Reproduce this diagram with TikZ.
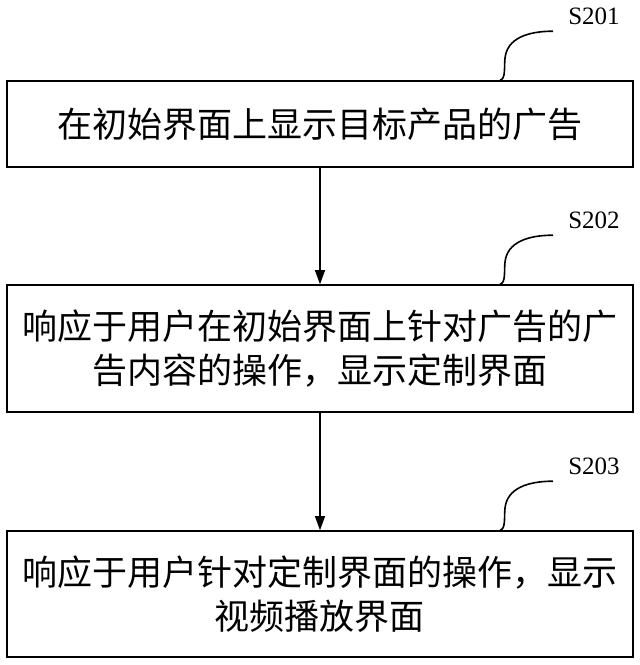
\documentclass[tikz,border=0pt]{standalone}
\usepackage{fontspec}
\setmainfont{Liberation Serif}
\newfontfamily\cjk{Noto Sans CJK SC}
\usetikzlibrary{arrows.meta}
\tikzset{stepbox/.style={draw=black, line width=1.6pt, minimum width=626pt, inner sep=0pt, align=center, font=\cjk\fontsize{35}{44}\selectfont},
steplabel/.style={font=\fontsize{25}{25}\selectfont, inner sep=0pt},
%arrow between two steps
flow/.style={-{Triangle[length=14pt,width=10pt]}, line width=1.3pt}}

\begin{document}
\begin{tikzpicture}[x=1pt,y=-1pt]

    \useasboundingbox (0,0) rectangle (640,665);

    \node[stepbox, minimum height=86pt] (s1) at (320,124) {在初始界面上显示目标产品的广告};
    \node[stepbox, minimum height=127pt] (s2) at (320,348.5) {响应于用户在初始界面上针对广告的广\\告内容的操作，显示定制界面};
    \node[stepbox, minimum height=126pt] (s3) at (320,594) {响应于用户针对定制界面的操作，显示\\视频播放界面};

    \foreach \i in {1,2,3}
    {
    \coordinate (c\i) at ([xshift=180pt]s\i.north);
    \coordinate (m\i) at ([xshift=185pt,yshift=22pt]s\i.north);
    \coordinate (e\i) at ([xshift=233pt,yshift=49pt]s\i.north);
    \node[steplabel] (l\i) at ([xshift=274pt,yshift=64pt]s\i.north) {S20\i};
    \draw[line width=1.6pt] (c\i) .. controls +(6,-1) and +(-1,8) .. (m\i) .. controls +(2,-20) and +(-25,0) .. (e\i);
    }

    \draw[flow] (s1) -- (s2);
    \draw[flow] (s2) -- (s3);

  \end{tikzpicture}
\end{document}
